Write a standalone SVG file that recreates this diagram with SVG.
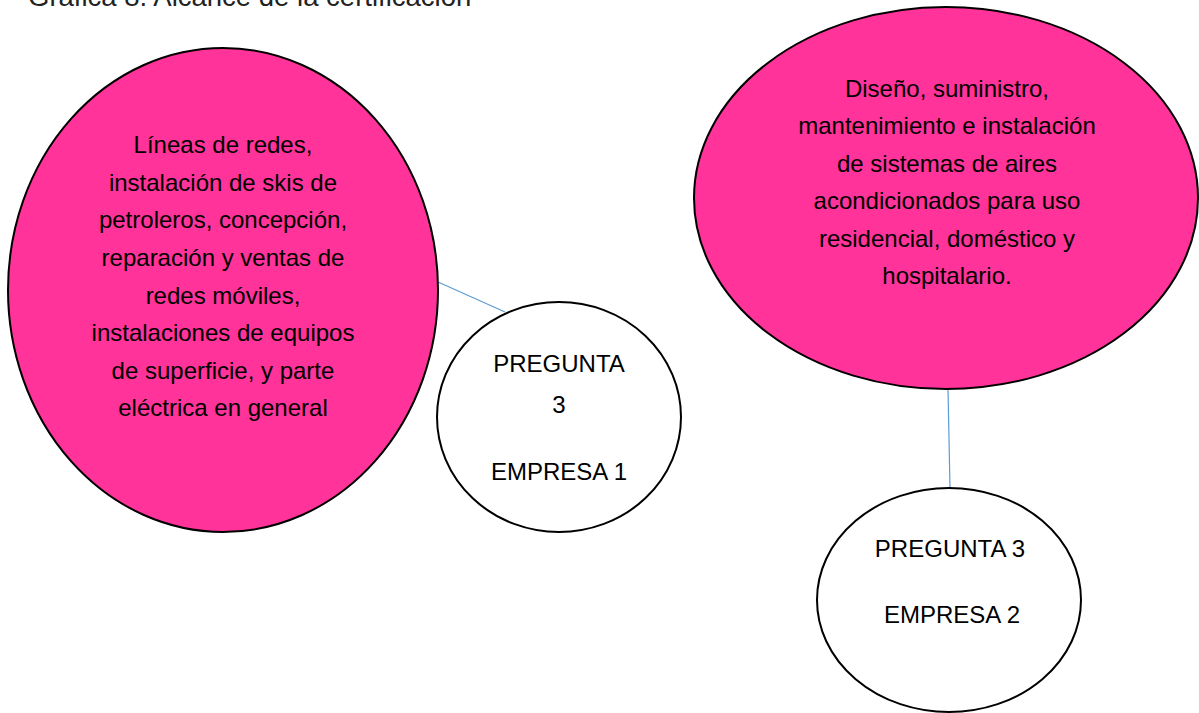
<svg xmlns="http://www.w3.org/2000/svg" width="1199" height="713" viewBox="0 0 1199 713">
<style>
.pink{fill:#FF3399;stroke:#000;stroke-width:2}
.white{fill:#fff;stroke:#000;stroke-width:2}
.t{font-family:"Liberation Sans",Arial,sans-serif;font-size:24px;fill:#000;text-anchor:middle}
.title{font-family:"Liberation Sans",Arial,sans-serif;font-size:27.5px;fill:#222}
.conn{stroke:#5B9BD5;stroke-width:1.2;fill:none}
</style>
<rect width="1199" height="713" fill="#fff"/>
<text class="title" x="28" y="6">Gráfica 8. Alcance de la certificación</text>
<g id="connectors">
<line class="conn" x1="438" y1="282" x2="505" y2="312"/>
<line class="conn" x1="948" y1="389" x2="950" y2="488"/>
</g>
<g id="node-empresa1-alcance">
<ellipse class="pink" cx="223" cy="290" rx="215" ry="242"/>
<text class="t" x="223" y="153">Líneas de redes,</text>
<text class="t" x="223" y="191">instalación de skis de</text>
<text class="t" x="223" y="228">petroleros, concepción,</text>
<text class="t" x="223" y="266">reparación y ventas de</text>
<text class="t" x="223" y="304">redes móviles,</text>
<text class="t" x="223" y="341">instalaciones de equipos</text>
<text class="t" x="223" y="379">de superficie, y parte</text>
<text class="t" x="223" y="416">eléctrica en general</text>
</g>
<g id="node-pregunta3-empresa1">
<ellipse class="white" cx="559" cy="417" rx="122" ry="115"/>
<text class="t" x="559" y="372">PREGUNTA</text>
<text class="t" x="559" y="413">3</text>
<text class="t" x="559" y="480">EMPRESA 1</text>
</g>
<g id="node-empresa2-alcance">
<ellipse class="pink" cx="946" cy="198" rx="252" ry="191"/>
<text class="t" x="947" y="97">Diseño, suministro,</text>
<text class="t" x="947" y="134">mantenimiento e instalación</text>
<text class="t" x="947" y="172">de sistemas de aires</text>
<text class="t" x="947" y="209">acondicionados para uso</text>
<text class="t" x="947" y="247">residencial, doméstico y</text>
<text class="t" x="947" y="284">hospitalario.</text>
</g>
<g id="node-pregunta3-empresa2">
<ellipse class="white" cx="949" cy="600" rx="132" ry="112"/>
<text class="t" x="950" y="557">PREGUNTA 3</text>
<text class="t" x="952" y="623">EMPRESA 2</text>
</g>
</svg>
